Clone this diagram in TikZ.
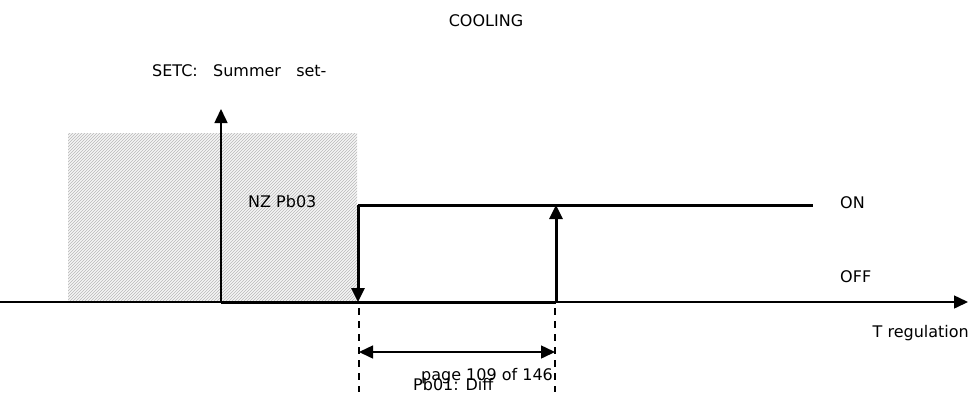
\documentclass[tikz,border=0pt]{standalone}
\usepackage{fontspec}
\setmainfont{DejaVu Sans}
\usetikzlibrary{arrows.meta,patterns}
\begin{document}
\begin{tikzpicture}[x=1pt,y=-1pt,
  lbl/.style={inner sep=0pt,font=\fontsize{16}{19}\selectfont},
  thin/.style={line width=1.5pt},
  thick/.style={line width=3pt},
  tip/.style={-{Triangle[length=14pt,width=13pt]}},
  dline/.style={line width=1.3pt,dash pattern=on 7pt off 6pt}]
\useasboundingbox (0,0) rectangle (972,392);
% hatched zone
\fill[gray!8] (68,133) rectangle (357,302);
\fill[pattern=north east lines,pattern color=gray!55] (68,133) rectangle (357,302);
% coordinates
\coordinate (ax0) at (0,302);
\coordinate (ax1) at (968,302);
\coordinate (vy0) at (221,302);
\coordinate (vy1) at (221,109);
\coordinate (a) at (358,205);
\coordinate (ab) at (358,302);
\coordinate (b) at (556,205);
\coordinate (bb) at (556,302);
\coordinate (onend) at (813,205);
\coordinate (d1t) at (359,308);
\coordinate (d1b) at (359,392);
\coordinate (d2t) at (555,308);
\coordinate (d2b) at (555,392);
\coordinate (m1) at (359,352);
\coordinate (m2) at (555,352);
% axes
\draw[thin,tip] (ax0) -- (ax1);
\draw[thin,tip] (vy0) -- (vy1);
% hysteresis
\draw[thick] (vy0) -- (bb);
\draw[thick] (a) -- (onend);
\draw[thick,tip] (a) -- (ab);
\draw[thick,tip] (bb) -- (b);
% dimension
\draw[dline] (d1t) -- (d1b);
\draw[dline] (d2t) -- (d2b);
\draw[thin,{Triangle[length=14pt,width=13pt]}-{Triangle[length=14pt,width=13pt]}] (m1) -- (m2);
% labels
\node[lbl,anchor=base] (cool) at (486,26) {COOLING};
\node[lbl,anchor=base west] (setc) at (152,76) {SETC:\ \ \ Summer\ \ \ set-};
\node[lbl,anchor=base west] (nz) at (248,207) {NZ Pb03};
\node[lbl,anchor=base west] (on) at (840,208) {ON};
\node[lbl,anchor=base west] (off) at (840,282) {OFF};
\node[lbl,anchor=base east] (treg) at (969,337) {T regulation};
\node[lbl,anchor=base west] (diff) at (413,390) {Pb01: Diff};
\node[lbl,anchor=base west] (page) at (421,380) {page 109 of 146};
\end{tikzpicture}
\end{document}
